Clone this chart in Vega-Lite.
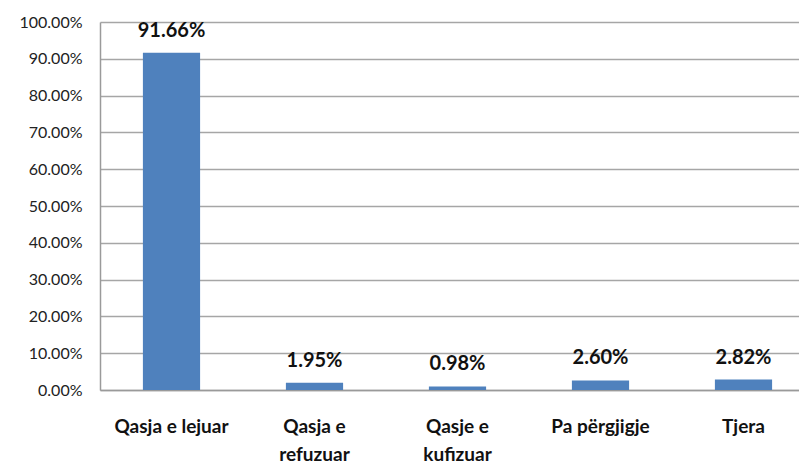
{
  "$schema": "https://vega.github.io/schema/vega-lite/v6.json",
  "width": 699,
  "height": 368,
  "autosize": "none",
  "padding": {"left": 100, "top": 22, "right": 0, "bottom": 73},
  "background": "white",
  "config": {"view": {"stroke": null}},
  "data": {"values": [
    {"category": "Qasja e lejuar", "value": 0.9166},
    {"category": "Qasja e refuzuar", "value": 0.0195},
    {"category": "Qasje e kufizuar", "value": 0.0098},
    {"category": "Pa përgjigje", "value": 0.026},
    {"category": "Tjera", "value": 0.0282}
  ]},
  "encoding": {
    "x": {"field": "category", "type": "nominal", "sort": null,
      "scale": {"range": [0, 715], "paddingInner": 0.6, "paddingOuter": 0.3},
      "axis": {"title": null, "labelAngle": 0, "ticks": false, "domainColor": "#9a9a9a", "domainWidth": 1.5,
        "labelFont": "Lato", "labelFontWeight": "bold", "labelFontSize": 19, "labelColor": "#111111",
        "labelPadding": 27, "labelLineHeight": 28,
        "labelExpr": "datum.value == 'Qasja e refuzuar' ? ['Qasja e', 'refuzuar'] : datum.value == 'Qasje e kufizuar' ? ['Qasje e', 'kufizuar'] : datum.value"}},
    "y": {"field": "value", "type": "quantitative",
      "scale": {"domain": [0, 1], "nice": false},
      "axis": {"title": null, "format": ".2%", "values": [0,0.1,0.2,0.3,0.4,0.5,0.6,0.7,0.8,0.9,1],
        "ticks": false, "labelPadding": 18, "labelFont": "Lato", "labelFontSize": 16, "labelColor": "#222222",
        "gridColor": "#a6a6a6", "gridWidth": 1.5, "gridOpacity": 1, "domainColor": "#9a9a9a", "domainWidth": 1.5}}
  },
  "layer": [
    {"mark": {"type": "bar", "color": "#4F81BD"}},
    {"mark": {"type": "text", "dy": -22, "font": "Lato", "fontWeight": "bold", "fontSize": 20, "color": "#111111"},
      "encoding": {"text": {"field": "value", "format": ".2%"}}}
  ]
}
